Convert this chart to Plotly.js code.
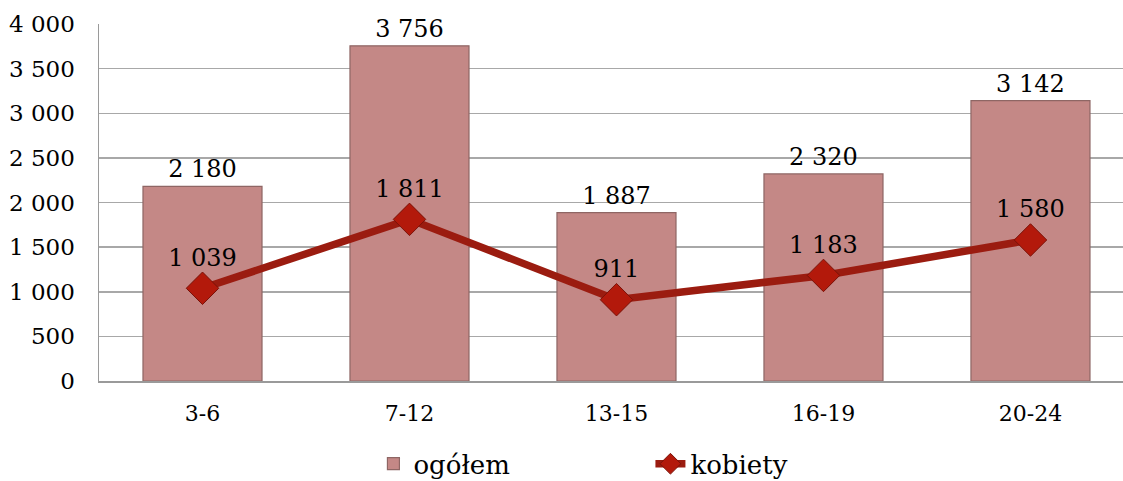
<!DOCTYPE html>
<html><head><meta charset="utf-8">
<script src="https://cdn.plot.ly/plotly-3.0.1.min.js"></script>
<style>html,body{margin:0;padding:0;background:#fff}#chart{width:1123px;height:481px}</style>
</head><body><div id="chart"></div>
<script>
const categories = ["3-6", "7-12", "13-15", "16-19", "20-24"];
const ogolem = [2180, 3756, 1887, 2320, 3142];
const kobiety = [1039, 1811, 911, 1183, 1580];
const seriesNames = ["ogółem", "kobiety"];
const yTicks = [0, 500, 1000, 1500, 2000, 2500, 3000, 3500, 4000];

function fmt(v){ return String(v).replace(/\B(?=(\d{3})+(?!\d))/g, " "); }

const FAM = "DejaVu Serif";
function f(size){ return {family: FAM, size: size, color: "#000"}; }

const traces = [
  {type: "bar", name: seriesNames[0], x: categories, y: ogolem,
   text: ogolem.map(fmt), textposition: "outside", cliponaxis: false,
   textfont: f(24),
   marker: {color: "#C48886", line: {color: "#8E6664", width: 1.2}}},
  {type: "scatter", mode: "lines+markers+text", name: seriesNames[1], x: categories, y: kobiety,
   text: kobiety.map(fmt), textposition: "top center", cliponaxis: false,
   textfont: f(24),
   line: {color: "#9B1C10", width: 7.5},
   marker: {symbol: "diamond", size: 25, color: "#B3190B", line: {color: "#7A1208", width: 1}}}
];

const layout = {
  width: 1123, height: 481,
  margin: {l: 99, r: 0, t: 24, b: 100, autoexpand: false},
  paper_bgcolor: "#fff", plot_bgcolor: "#fff",
  font: f(22),
  bargap: 0.425,
  showlegend: true,
  legend: {orientation: "h", x: 0.268, xanchor: "left", yref: "paper", y: -0.232, yanchor: "middle",
           font: f(26), entrywidth: 232, tracegroupgap: 0},
  xaxis: {type: "category", range: [-0.5, 4.447], showgrid: false, zeroline: false,
          showline: true, linecolor: "#9A9A9A", linewidth: 1.5, ticks: "",
          tickfont: f(22), ticklabelstandoff: 12},
  yaxis: {range: [0, 4000], tickvals: yTicks, ticktext: yTicks.map(fmt),
          showgrid: true, gridcolor: "#A8A8A8", gridwidth: 1.5, zeroline: false,
          showline: true, linecolor: "#9A9A9A", linewidth: 1.5, ticks: "",
          tickfont: f(23), ticklabelstandoff: 18}
};

Plotly.newPlot("chart", traces, layout, {displayModeBar: false, staticPlot: true});
</script></body></html>
